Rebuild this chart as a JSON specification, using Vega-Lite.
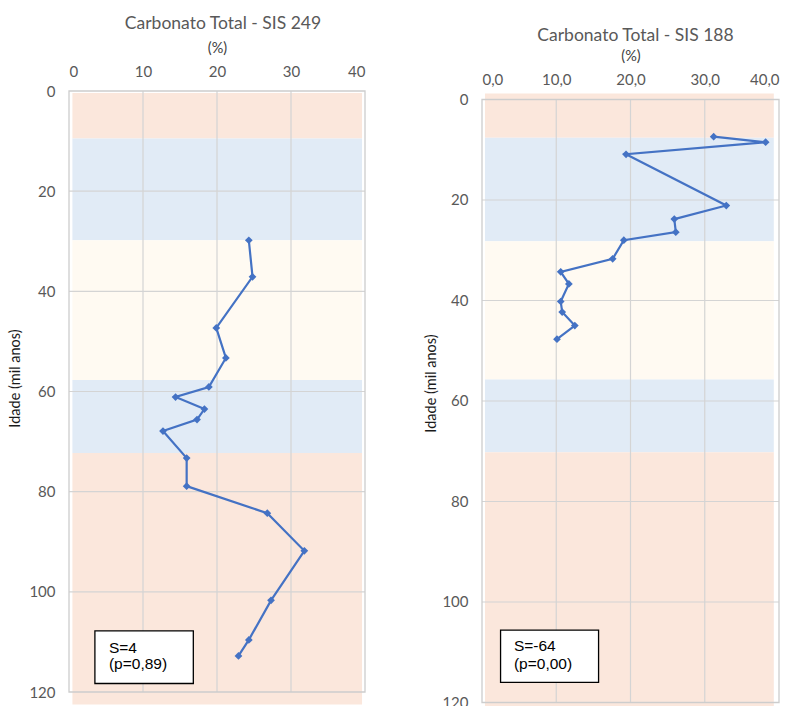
{
  "$schema": "https://vega.github.io/schema/vega-lite/v6.json",
  "padding": {"left": 7, "top": 14, "right": 0, "bottom": 0},
  "background": "white",
  "config": {
    "view": {"stroke": null},
    "font": "Lato",
    "axis": {
      "domain": false,
      "ticks": false,
      "grid": false,
      "labelFont": "Lato",
      "labelFontSize": 15,
      "labelColor": "#595959",
      "titleFont": "Lato",
      "titleFontWeight": "normal"
    },
    "title": {"font": "Lato", "fontSize": 17.5, "fontWeight": "normal", "color": "#595959"}
  },
  "datasets": {
    "sis249": [
      {"idade": 29.8, "carbonato": 24.3},
      {"idade": 37.1, "carbonato": 24.8},
      {"idade": 47.3, "carbonato": 19.9},
      {"idade": 53.3, "carbonato": 21.2},
      {"idade": 59.1, "carbonato": 18.9},
      {"idade": 61.1, "carbonato": 14.4},
      {"idade": 63.5, "carbonato": 18.3},
      {"idade": 65.6, "carbonato": 17.3},
      {"idade": 67.9, "carbonato": 12.7},
      {"idade": 73.3, "carbonato": 15.9},
      {"idade": 78.9, "carbonato": 15.9},
      {"idade": 84.3, "carbonato": 26.8},
      {"idade": 91.8, "carbonato": 31.8},
      {"idade": 101.7, "carbonato": 27.3},
      {"idade": 109.6, "carbonato": 24.3},
      {"idade": 112.8, "carbonato": 22.9}
    ],
    "sis188": [
      {"idade": 7.4, "carbonato": 31.2},
      {"idade": 8.5, "carbonato": 38.2},
      {"idade": 10.9, "carbonato": 19.4},
      {"idade": 21.1, "carbonato": 32.9},
      {"idade": 23.8, "carbonato": 25.9},
      {"idade": 26.4, "carbonato": 26.1},
      {"idade": 28.0, "carbonato": 19.1},
      {"idade": 31.7, "carbonato": 17.6},
      {"idade": 34.3, "carbonato": 10.6},
      {"idade": 36.7, "carbonato": 11.7},
      {"idade": 40.2, "carbonato": 10.6},
      {"idade": 42.3, "carbonato": 10.8},
      {"idade": 45.0, "carbonato": 12.5},
      {"idade": 47.7, "carbonato": 10.1}
    ],
    "mis249": [
      {"mis": "MIS 1", "clima": "quente", "x0": 0.46, "x1": 39.6, "topo": 0.4, "base": 9.5},
      {"mis": "MIS 2", "clima": "frio", "x0": 0.46, "x1": 39.6, "topo": 9.5, "base": 29.8},
      {"mis": "MIS 3", "clima": "intermediario", "x0": 0.46, "x1": 39.6, "topo": 29.8, "base": 57.7},
      {"mis": "MIS 4", "clima": "frio", "x0": 0.46, "x1": 39.6, "topo": 57.7, "base": 72.3},
      {"mis": "MIS 5", "clima": "quente", "x0": 0.46, "x1": 39.6, "topo": 72.3, "base": 122.5}
    ],
    "mis188": [
      {"mis": "MIS 1", "clima": "quente", "x0": 0.4, "x1": 39.3, "topo": -1.2, "base": 7.6},
      {"mis": "MIS 2", "clima": "frio", "x0": 0.4, "x1": 39.3, "topo": 7.6, "base": 28.2},
      {"mis": "MIS 3", "clima": "intermediario", "x0": 0.4, "x1": 39.3, "topo": 28.2, "base": 55.7},
      {"mis": "MIS 4", "clima": "frio", "x0": 0.4, "x1": 39.3, "topo": 55.7, "base": 70.2},
      {"mis": "MIS 5", "clima": "quente", "x0": 0.4, "x1": 39.3, "topo": 70.2, "base": 123}
    ],
    "gradeX": [{"v": 10}, {"v": 20}, {"v": 30}],
    "gradeY": [{"v": 20}, {"v": 40}, {"v": 60}, {"v": 80}, {"v": 100}],
    "um": [{}]
  },
  "spacing": 57,
  "hconcat": [
    {
      "width": 296,
      "height": 601,
      "title": {"text": "Carbonato Total - SIS 249", "dx": 6, "offset": 8},
      "layer": [
        {
          "data": {"name": "mis249"},
          "mark": {"type": "rect"},
          "encoding": {
            "x": {"field": "x0", "type": "quantitative",
                  "scale": {"domain": [0, 40], "nice": false},
                  "axis": {"orient": "top", "values": [0, 10, 20, 30, 40],
                           "title": "(%)", "titleFontSize": 14.5, "titleColor": "#404040",
                           "titlePadding": 9, "labelPadding": 12}},
            "x2": {"field": "x1"},
            "y": {"field": "topo", "type": "quantitative",
                  "scale": {"domain": [0, 120], "reverse": true, "nice": false},
                  "axis": {"values": [0, 20, 40, 60, 80, 100, 120],
                           "title": "Idade (mil anos)", "titleFontSize": 14.5, "titleColor": "#1a1a1a",
                           "labelPadding": 14, "titlePadding": 6, "titleY": 287}},
            "y2": {"field": "base"},
            "color": {"field": "clima", "type": "nominal", "legend": null,
                      "scale": {"domain": ["quente", "frio", "intermediario"],
                                "range": ["#fbe7dc", "#e1ebf6", "#fffaf2"]}}
          }
        },
        {
          "data": {"name": "gradeX"},
          "mark": {"type": "rule", "color": "#d4d4d4", "strokeWidth": 1.2},
          "encoding": {
            "x": {"field": "v", "type": "quantitative"},
            "y": {"datum": 0, "type": "quantitative"},
            "y2": {"datum": 120}
          }
        },
        {
          "data": {"name": "gradeY"},
          "mark": {"type": "rule", "color": "#d4d4d4", "strokeWidth": 1.2},
          "encoding": {
            "y": {"field": "v", "type": "quantitative"},
            "x": {"datum": 0, "type": "quantitative"},
            "x2": {"datum": 40}
          }
        },
        {
          "data": {"name": "um"},
          "mark": {"type": "rect", "fill": null, "stroke": "#cdcdcd", "strokeWidth": 1.3},
          "encoding": {
            "x": {"datum": 0, "type": "quantitative"},
            "x2": {"datum": 40},
            "y": {"datum": 0, "type": "quantitative"},
            "y2": {"datum": 120}
          }
        },
        {
          "data": {"name": "sis249"},
          "mark": {"type": "line", "color": "#4472c4", "strokeWidth": 2.2,
                   "point": {"shape": "diamond", "size": 60, "filled": true, "color": "#4472c4"}},
          "encoding": {
            "x": {"field": "carbonato", "type": "quantitative"},
            "y": {"field": "idade", "type": "quantitative"},
            "order": {"field": "idade", "type": "quantitative"}
          }
        },
        {
          "data": {"name": "um"},
          "mark": {"type": "rect", "fill": "white", "stroke": "black", "strokeWidth": 1.3},
          "encoding": {
            "x": {"datum": 3.5, "type": "quantitative"},
            "x2": {"datum": 16.8},
            "y": {"datum": 107.8, "type": "quantitative"},
            "y2": {"datum": 118.3}
          }
        },
        {
          "data": {"values": [
            {"txt": "S=4", "px": 5.4, "py": 112.2},
            {"txt": "(p=0,89)", "px": 5.4, "py": 115.4}
          ]},
          "mark": {"type": "text", "font": "Liberation Sans", "fontSize": 15.5, "align": "left",
                   "baseline": "alphabetic", "color": "black"},
          "encoding": {
            "x": {"field": "px", "type": "quantitative"},
            "y": {"field": "py", "type": "quantitative"},
            "text": {"field": "txt"}
          }
        }
      ]
    },
    {
      "width": 297,
      "height": 611.5,
      "title": {"text": "Carbonato Total - SIS 188", "dx": 5, "offset": 4},
      "layer": [
        {
          "data": {"name": "mis188"},
          "mark": {"type": "rect"},
          "encoding": {
            "x": {"field": "x0", "type": "quantitative",
                  "scale": {"domain": [0, 40], "nice": false},
                  "axis": {"orient": "top", "values": [0, 10, 20, 30, 40],
                           "labelExpr": "replace(format(datum.value, '.1f'), '.', ',')",
                           "title": "(%)", "titleFontSize": 14.5, "titleColor": "#404040",
                           "titlePadding": 9, "labelPadding": 14, "offset": -10.5}},
            "x2": {"field": "x1"},
            "y": {"field": "topo", "type": "quantitative",
                  "scale": {"domain": [-1.69, 120], "reverse": true, "nice": false, "zero": false},
                  "axis": {"values": [0, 20, 40, 60, 80, 100, 120],
                           "title": "Idade (mil anos)", "titleFontSize": 14.5, "titleColor": "#1a1a1a",
                           "labelPadding": 14, "titlePadding": 3, "titleY": 292}},
            "y2": {"field": "base"},
            "color": {"field": "clima", "type": "nominal", "legend": null,
                      "scale": {"domain": ["quente", "frio", "intermediario"],
                                "range": ["#fbe7dc", "#e1ebf6", "#fffaf2"]}}
          }
        },
        {
          "data": {"name": "gradeX"},
          "mark": {"type": "rule", "color": "#d4d4d4", "strokeWidth": 1.2},
          "encoding": {
            "x": {"field": "v", "type": "quantitative"},
            "y": {"datum": 0, "type": "quantitative"},
            "y2": {"datum": 120}
          }
        },
        {
          "data": {"name": "gradeY"},
          "mark": {"type": "rule", "color": "#d4d4d4", "strokeWidth": 1.2},
          "encoding": {
            "y": {"field": "v", "type": "quantitative"},
            "x": {"datum": 0, "type": "quantitative"},
            "x2": {"datum": 40}
          }
        },
        {
          "data": {"name": "um"},
          "mark": {"type": "rect", "fill": null, "stroke": "#cdcdcd", "strokeWidth": 1.3},
          "encoding": {
            "x": {"datum": 0, "type": "quantitative"},
            "x2": {"datum": 40},
            "y": {"datum": 0, "type": "quantitative"},
            "y2": {"datum": 120}
          }
        },
        {
          "data": {"name": "sis188"},
          "mark": {"type": "line", "color": "#4472c4", "strokeWidth": 2.2,
                   "point": {"shape": "diamond", "size": 60, "filled": true, "color": "#4472c4"}},
          "encoding": {
            "x": {"field": "carbonato", "type": "quantitative"},
            "y": {"field": "idade", "type": "quantitative"},
            "order": {"field": "idade", "type": "quantitative"}
          }
        },
        {
          "data": {"name": "um"},
          "mark": {"type": "rect", "fill": "white", "stroke": "black", "strokeWidth": 1.3},
          "encoding": {
            "x": {"datum": 2.5, "type": "quantitative"},
            "x2": {"datum": 15.7},
            "y": {"datum": 105.6, "type": "quantitative"},
            "y2": {"datum": 116.0}
          }
        },
        {
          "data": {"values": [
            {"txt": "S=-64", "px": 4.3, "py": 109.8},
            {"txt": "(p=0,00)", "px": 4.3, "py": 113.3}
          ]},
          "mark": {"type": "text", "font": "Liberation Sans", "fontSize": 15.5, "align": "left",
                   "baseline": "alphabetic", "color": "black"},
          "encoding": {
            "x": {"field": "px", "type": "quantitative"},
            "y": {"field": "py", "type": "quantitative"},
            "text": {"field": "txt"}
          }
        }
      ]
    }
  ]
}
